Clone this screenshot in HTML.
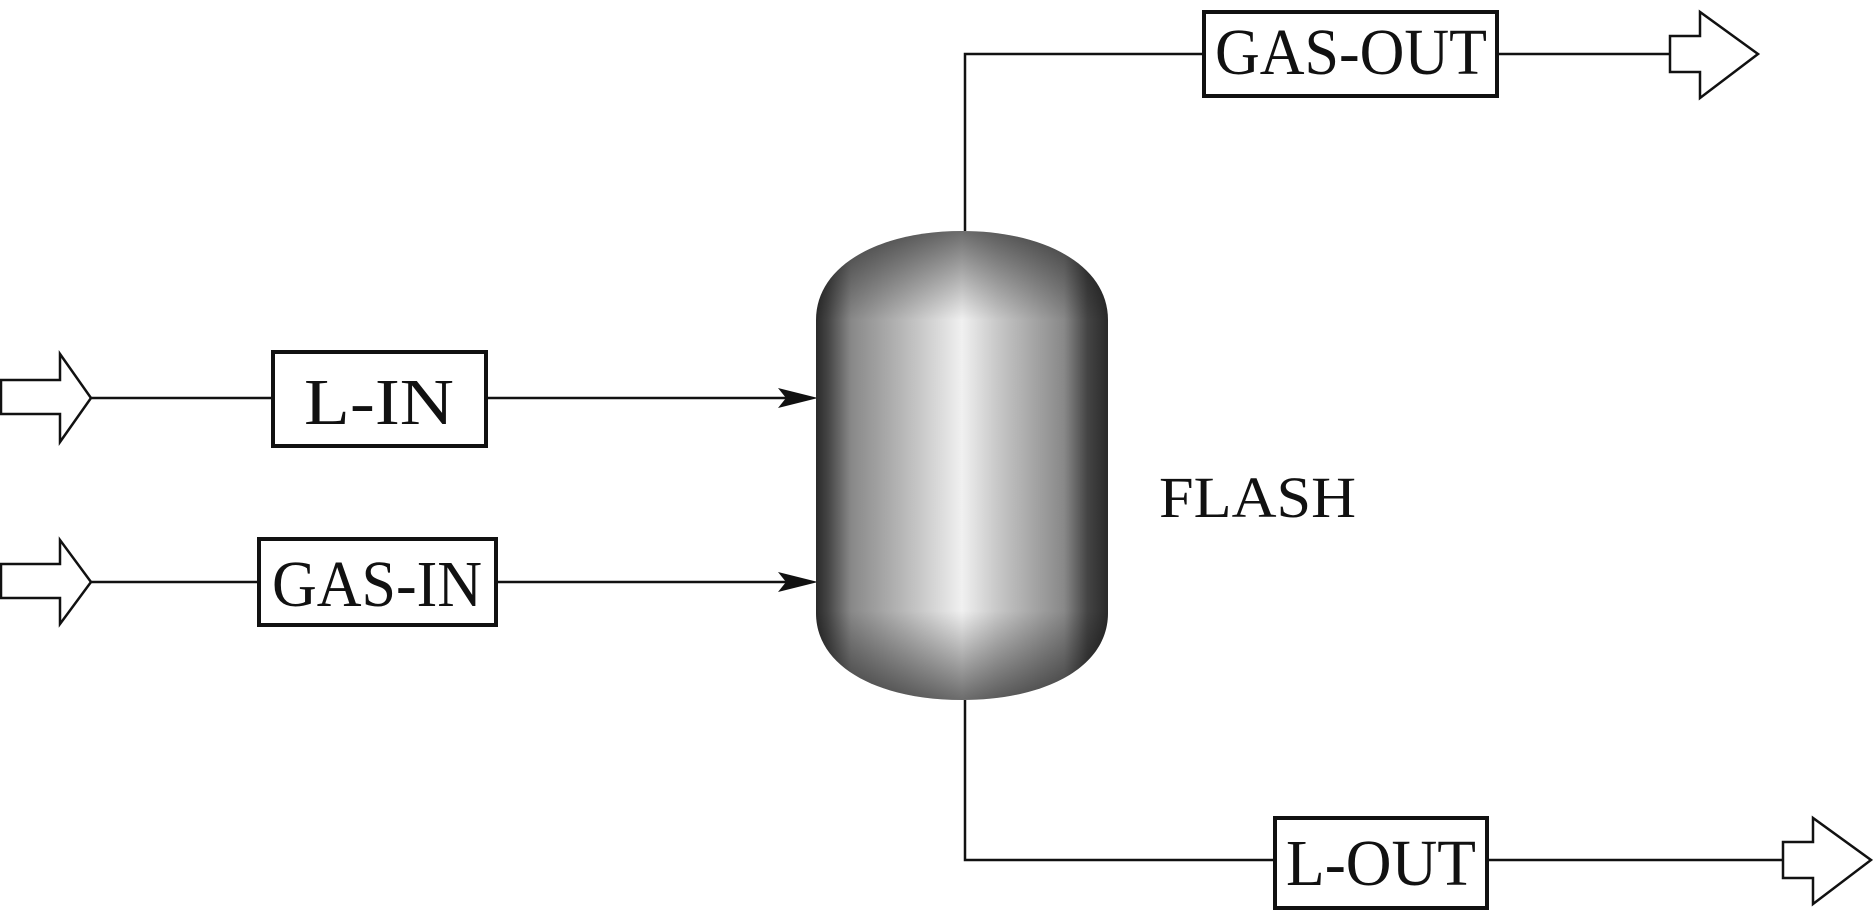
<!DOCTYPE html>
<html><head><meta charset="utf-8"><style>
html,body{margin:0;padding:0;background:#fff;width:1873px;height:912px;overflow:hidden}
svg{display:block}
text{font-family:"Liberation Serif","Times New Roman",serif;fill:#111}
</style></head><body>
<svg width="1873" height="912" viewBox="0 0 1873 912" xmlns="http://www.w3.org/2000/svg">
<defs>
<linearGradient id="h" x1="0" x2="1" y1="0" y2="0">
<stop offset="0" stop-color="#2a2a2a"/>
<stop offset="0.04" stop-color="#444"/>
<stop offset="0.12" stop-color="#888"/>
<stop offset="0.3" stop-color="#b8b8b8"/>
<stop offset="0.5" stop-color="#f0f0f0"/>
<stop offset="0.62" stop-color="#c8c8c8"/>
<stop offset="0.85" stop-color="#888"/>
<stop offset="0.93" stop-color="#444"/>
<stop offset="1" stop-color="#2a2a2a"/>
</linearGradient>
<linearGradient id="v" x1="0" x2="0" y1="0" y2="1">
<stop offset="0" stop-color="#000" stop-opacity="0.55"/>
<stop offset="0.19" stop-color="#000" stop-opacity="0"/>
<stop offset="0.81" stop-color="#000" stop-opacity="0"/>
<stop offset="1" stop-color="#000" stop-opacity="0.55"/>
</linearGradient>
</defs>
<g stroke="#111" stroke-width="2.5" fill="none">
<line x1="91" y1="398" x2="272" y2="398"/>
<line x1="487" y1="398" x2="800" y2="398"/>
<line x1="91" y1="582" x2="258" y2="582"/>
<line x1="497" y1="582" x2="800" y2="582"/>
<polyline points="965,231 965,54 1203,54"/>
<line x1="1498" y1="54" x2="1670" y2="54"/>
<polyline points="965,700 965,860 1274,860"/>
<line x1="1488" y1="860" x2="1783" y2="860"/>
<polygon points="1,380 60,380 60,354 91,398 60,442 60,414 1,414"/>
<polygon points="1,564 60,564 60,540 91,582 60,624 60,598 1,598"/>
<polygon points="1670,36 1700,36 1700,12 1758,54 1700,98 1700,72 1670,72"/>
<polygon points="1783,842 1813,842 1813,818 1871,860 1813,904 1813,878 1783,878"/>
</g>
<polygon points="818,398 778,388 786,398 778,408" fill="#111"/>
<polygon points="818,582 778,572 786,582 778,592" fill="#111"/>
<path d="M816,320 C816,265 880,231 962,231 C1044,231 1108,265 1108,320 L1108,613 C1108,668 1044,700 962,700 C880,700 816,668 816,613 Z" fill="url(#h)"/>
<path d="M816,320 C816,265 880,231 962,231 C1044,231 1108,265 1108,320 L1108,613 C1108,668 1044,700 962,700 C880,700 816,668 816,613 Z" fill="url(#v)"/>
<g stroke="#111" stroke-width="4" fill="#fff">
<rect x="273" y="352" width="213" height="94"/>
<rect x="259" y="539" width="237" height="86"/>
<rect x="1204" y="12" width="293" height="84"/>
<rect x="1275" y="818" width="212" height="90"/>
</g>
<text x="379" y="424" font-size="66" text-anchor="middle" textLength="150" lengthAdjust="spacingAndGlyphs">L-IN</text>
<text x="377" y="606" font-size="66" text-anchor="middle" textLength="210" lengthAdjust="spacingAndGlyphs">GAS-IN</text>
<text x="1351" y="74" font-size="66" text-anchor="middle" textLength="272" lengthAdjust="spacingAndGlyphs">GAS-OUT</text>
<text x="1381" y="885" font-size="66" text-anchor="middle" textLength="190" lengthAdjust="spacingAndGlyphs">L-OUT</text>
<text x="1159" y="517" font-size="58" textLength="197" lengthAdjust="spacingAndGlyphs">FLASH</text>
</svg>
</body></html>
